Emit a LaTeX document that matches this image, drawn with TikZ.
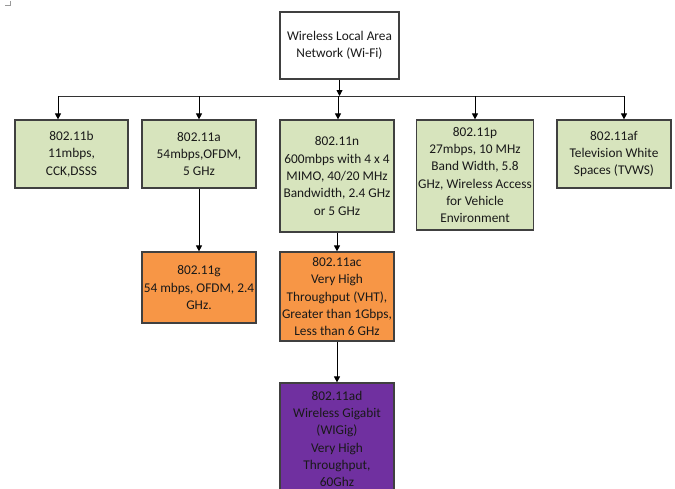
\documentclass[tikz,border=0pt]{standalone}
\usepackage{fontspec}
\setmainfont{Carlito}
\usetikzlibrary{arrows.meta}
\definecolor{boxgreen}{HTML}{D7E4BD}
\definecolor{boxorange}{HTML}{F79646}
\definecolor{boxpurple}{HTML}{7030A0}
\definecolor{edgegray}{HTML}{404040}
\begin{document}
\begin{tikzpicture}[x=0.75pt,y=-0.75pt,
  card/.style={draw=edgegray, line width=0.9pt, align=center, inner sep=1pt,
    font=\fontsize{10}{13}\selectfont, text=black!90},
  green/.style={card, fill=boxgreen},
  link/.style={draw=black, line width=0.7pt, -{Triangle[length=4.5pt,width=4.5pt]}},
  bus/.style={draw=black!80, line width=0.7pt}]
\useasboundingbox (0,0) rectangle (675,489);
% small corner mark
\draw[black!40, line width=0.5pt] (5,5) -- (10,5) -- (10,1);

% root
\node[card, fill=white, minimum width=89.25pt, minimum height=50.25pt] (root) at (339.5,45.5)
  {Wireless Local Area\\Network (Wi-Fi)};

% first level
\node[green, minimum width=84.75pt, minimum height=51pt] (b) at (71.5,154)
  {802.11b\\11mbps,\\CCK,DSSS};
\node[green, minimum width=85.5pt, minimum height=51pt] (a) at (199,154)
  {802.11a\\54mbps,OFDM,\\5 GHz};
\node[green, minimum width=85.5pt, minimum height=84pt] (n) at (337,176)
  {802.11n\\600mbps with 4 x 4\\MIMO, 40/20 MHz\\Bandwidth, 2.4 GHz\\or 5 GHz};
\node[green, minimum width=85.5pt, minimum height=82.5pt] (p) at (475,175)
  {802.11p\\27mbps, 10 MHz\\Band Width, 5.8\\GHz, Wireless Access\\for Vehicle\\Environment};
\node[green, minimum width=85.5pt, minimum height=51pt] (af) at (614,154)
  {802.11af\\Television White\\Spaces (TVWS)};

% second level
\node[card, fill=boxorange, minimum width=85.5pt, minimum height=53.25pt] (g) at (199,287.5)
  {802.11g\\54 mbps, OFDM, 2.4\\GHz.};
\node[card, fill=boxorange, minimum width=85.5pt, minimum height=66.75pt] (ac) at (337,296.5)
  {802.11ac\\Very High\\Throughput (VHT),\\Greater than 1Gbps,\\Less than 6 GHz};

% third level
\node[card, fill=boxpurple, minimum width=85.5pt, minimum height=84pt] (ad) at (337,439)
  {802.11ad\\Wireless Gigabit\\(WIGig)\\Very High\\Throughput,\\60Ghz};

% bus connectors
\coordinate (hub) at (339.5,96);
\coordinate (busL) at (58,96);
\coordinate (busR) at (624,96);
\coordinate (tapA) at (199,96);
\coordinate (tapN) at (338,96);
\coordinate (tapP) at (475,96);
\draw[link] (root.south) -- (hub);
\draw[bus] (busL) -- (busR);
\draw[link] (busL) -- (busL |- b.north);
\draw[link] (tapA) -- (tapA |- a.north);
\draw[link] (tapN) -- (tapN |- n.north);
\draw[link] (tapP) -- (tapP |- p.north);
\draw[link] (busR) -- (busR |- af.north);

\draw[link] (a.south) -- (g.north);
\draw[link] (n.south) -- (ac.north);
\draw[link] (ac.south) -- (ad.north);
\end{tikzpicture}
\end{document}
